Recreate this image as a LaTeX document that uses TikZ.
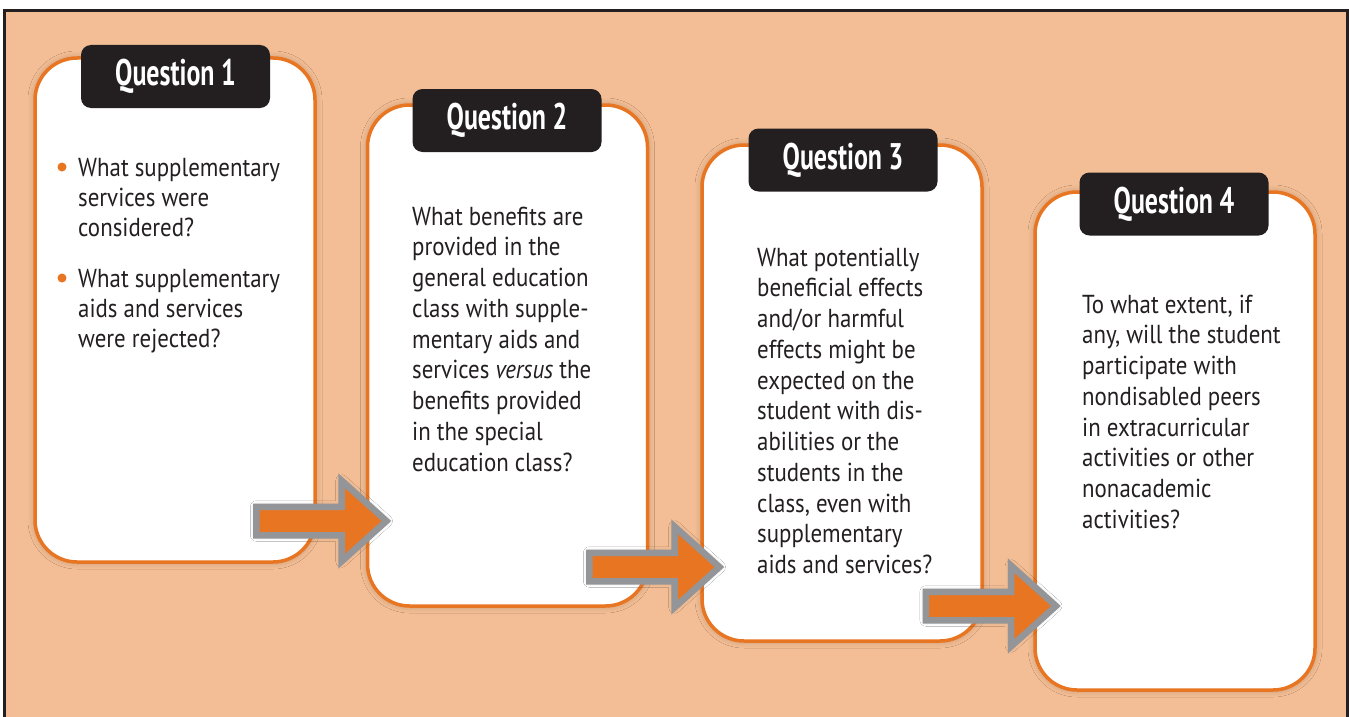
\documentclass[tikz,border=0pt]{standalone}
\usepackage{fontspec}
\setmainfont{PT Sans}[FakeStretch=0.88]
\newfontfamily\titlefont{PT Sans}[FakeStretch=0.7]
\usetikzlibrary{shapes.arrows,shadows.blur}
\definecolor{peach}{RGB}{243,190,149}
\definecolor{qorange}{RGB}{232,117,34}
\definecolor{qgray}{RGB}{147,149,152}
\definecolor{qdark}{RGB}{35,31,32}
\newcommand{\firstline}{\rule{0pt}{20pt}}
\tikzset{
 softshadow/.style={blur shadow={shadow xshift=0pt,shadow yshift=0pt,shadow blur radius=7pt,shadow blur steps=12,shadow opacity=22}},
 qbox/.style={draw=qorange,line width=3.5pt,fill=white,rounded corners=42pt,minimum width=280pt,inner sep=0pt,softshadow},
 qtitle/.style={fill=qdark,rounded corners=10pt,minimum width=189pt,minimum height=63pt,inner sep=0pt,text=white,font=\titlefont\bfseries\fontsize{37}{40}\selectfont},
 qtext/.style={anchor=north west,align=left,inner sep=0pt,text=qdark,font=\fontsize{26}{30.75}\selectfont},
 qbullet/.style={circle,fill=qorange,minimum size=9pt,inner sep=0pt},
 fatarrow/.style={single arrow,draw=qgray,fill=qorange,line width=6.5pt,minimum height=130pt,minimum width=74pt,single arrow head extend=26pt,single arrow tip angle=84,inner xsep=0pt,inner ysep=11pt,line join=miter,blur shadow={shadow xshift=0pt,shadow yshift=0pt,shadow blur radius=6pt,shadow blur steps=10,shadow opacity=18}},
}
\begin{document}
\begin{tikzpicture}[x=1pt,y=-1pt]
\useasboundingbox (0,0) rectangle (1349,717);
\fill[white] (0,0) rectangle (1349,717);
\fill[peach] (4.5,10.5) rectangle (1347.5,717);
\draw[qdark,line width=3pt] (4.5,717) -- (4.5,10.5) -- (1347.5,10.5) -- (1347.5,717);

% boxes
\node[qbox,minimum height=504pt] (b1) at (175,310) {};
\node[qbox,minimum height=501pt] (b2) at (507.5,355.5) {};
\node[qbox,minimum height=496pt] (b3) at (842,393) {};
\node[qbox,minimum height=498pt] (b4) at (1175,441) {};

% titles
\node[qtitle] (t1) at (175.5,76.5) {Question 1};
\node[qtitle] (t2) at (507,120.5) {Question 2};
\node[qtitle] (t3) at (843,160) {Question 3};
\node[qtitle] (t4) at (1174,204) {Question 4};

% texts (position = first baseline minus 20)
\node[qbullet] (d1) at (62,167) {};
\node[qtext,font=\fontsize{26}{30}\selectfont] (x1a) at (78,156) {\firstline What supplementary\\services were\\considered?};
\node[qbullet] (d2) at (62,278) {};
\node[qtext,font=\fontsize{26}{30}\selectfont] (x1b) at (78,267) {\firstline What supplementary\\aids and services\\were rejected?};

\node[qtext] (x2) at (412,205) {\firstline What benefits are\\provided in the\\general education\\class with supple-\\mentary aids and\\services \textit{versus} the\\benefits provided\\in the special\\education class?};

\node[qtext] (x3) at (757,246) {\firstline What potentially\\beneficial effects\\and/or harmful\\effects might be\\expected on the\\student with dis-\\abilities or the\\students in the\\class, even with\\supplementary\\aids and services?};

\node[qtext] (x4) at (1082,293) {\firstline To what extent, if\\any, will the student\\participate with\\nondisabled peers\\in extracurricular\\activities or other\\nonacademic\\activities?};

% arrows
\node[fatarrow] (a1) at (313.5,521) {};
\node[fatarrow] (a2) at (646.5,567) {};
\node[fatarrow] (a3) at (983,606) {};
\end{tikzpicture}
\end{document}
